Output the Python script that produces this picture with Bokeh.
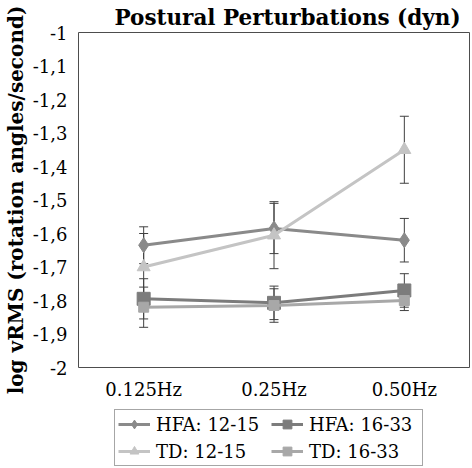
from bokeh.plotting import figure
from bokeh.layouts import column
from bokeh.models import (FactorRange, Range1d, FixedTicker, Whisker, TeeHead,
                          ColumnDataSource, Legend, LegendItem)
from bokeh.embed import file_html
from bokeh.resources import INLINE

categories = ["0.125Hz", "0.25Hz", "0.50Hz"]

hfa_12_15 = [-1.635, -1.585, -1.62]
hfa_12_15_err = [0.055, 0.075, 0.065]
hfa_16_33 = [-1.795, -1.807, -1.77]
hfa_16_33_err = [0.06, 0.05, 0.05]
td_12_15 = [-1.70, -1.605, -1.35]
td_12_15_err = [0.10, 0.10, 0.10]
td_16_33 = [-1.82, -1.815, -1.80]
td_16_33_err = [0.06, 0.05, 0.03]

y_ticks = [-2.0, -1.9, -1.8, -1.7, -1.6, -1.5, -1.4, -1.3, -1.2, -1.1, -1.0]
y_tick_labels = ["-2", "-1,9", "-1,8", "-1,7", "-1,6", "-1,5", "-1,4", "-1,3", "-1,2", "-1,1", "-1"]

series_names = ["HFA: 12-15", "HFA: 16-33", "TD: 12-15", "TD: 16-33"]

FONT = "DejaVu Serif"

p = figure(width=470, height=405, output_backend="svg", toolbar_location=None,
           x_range=FactorRange(*categories), y_range=Range1d(-2, -1),
           min_border_left=74, min_border_right=1, min_border_top=30, min_border_bottom=38)

p.title.text = "Postural Perturbations (dyn)"
p.title.text_font = FONT
p.title.text_font_style = "bold"
p.title.text_font_size = "21.5px"
p.title.text_color = "black"
p.title.align = "left"
p.title.offset = 36
p.title.standoff = 5

p.xgrid.visible = False
p.ygrid.visible = False
p.outline_line_color = "#4d4d4d"
p.outline_line_width = 1
p.background_fill_color = "white"
p.border_fill_color = "white"

p.yaxis.ticker = FixedTicker(ticks=y_ticks)
p.yaxis.major_label_overrides = {t: l for t, l in zip(y_ticks, y_tick_labels)}
for ax in (p.xaxis[0], p.yaxis[0]):
    ax.axis_line_color = None
    ax.major_tick_line_color = None
    ax.minor_tick_line_color = None
    ax.major_tick_out = 0
    ax.major_tick_in = 0
    ax.major_label_text_font = FONT
    ax.major_label_text_font_size = "18px"
    ax.major_label_text_color = "black"
p.yaxis.major_label_standoff = 11
p.xaxis.major_label_standoff = 11
p.yaxis.axis_label = "log vRMS (rotation angles/second)"
p.yaxis.axis_label_text_font = FONT
p.yaxis.axis_label_text_font_style = "bold"
p.yaxis.axis_label_text_font_size = "20px"
p.yaxis.axis_label_text_color = "black"
p.yaxis.axis_label_standoff = 2

styles = [
    (hfa_12_15, hfa_12_15_err, "#8a8a8a", "diamond", 15),
    (hfa_16_33, hfa_16_33_err, "#7c7c7c", "square", 13),
    (td_12_15, td_12_15_err, "#c4c4c4", "triangle", 13),
    (td_16_33, td_16_33_err, "#a8a8a8", "square", 10),
]

# legend figure below the chart (its renderers fall outside its visible range)
lp = figure(width=470, height=62, output_backend="svg", toolbar_location=None,
            x_range=Range1d(0, 1), y_range=Range1d(0, 1),
            x_axis_type=None, y_axis_type=None, min_border=0)
lp.xgrid.visible = False
lp.ygrid.visible = False
lp.outline_line_color = None
lp.background_fill_color = "white"
lp.border_fill_color = "white"

items = []
for name, (vals, errs, color, marker, size) in zip(series_names, styles):
    src = ColumnDataSource(dict(x=categories, y=vals,
                                upper=[v + e for v, e in zip(vals, errs)],
                                lower=[v - e for v, e in zip(vals, errs)]))
    p.line("x", "y", source=src, line_color=color, line_width=3)
    p.scatter("x", "y", source=src, marker=marker, size=size,
              fill_color=color, line_color=color)
    w = Whisker(base="x", upper="upper", lower="lower", source=src, dimension="height",
                line_color="#404040", line_width=1,
                upper_head=TeeHead(size=9, line_color="#404040", line_width=1),
                lower_head=TeeHead(size=9, line_color="#404040", line_width=1))
    p.add_layout(w)
    proxy = ColumnDataSource(dict(x=vals, y=vals))
    lr = lp.line("x", "y", source=proxy, line_color=color, line_width=3)
    sr = lp.scatter("x", "y", source=proxy, marker=marker, size=size,
                    fill_color=color, line_color=color)
    items.append(LegendItem(label=name, renderers=[lr, sr]))

legend = Legend(items=items, orientation="horizontal", ncols=2,
                location=(36, 1))
legend.label_text_font = FONT
legend.label_text_font_size = "18px"
legend.label_text_color = "black"
legend.glyph_width = 32
legend.glyph_height = 22
legend.label_height = 22
legend.label_width = 110
legend.spacing = 5
legend.padding = 3
legend.margin = 0
legend.label_standoff = 6
legend.border_line_color = "#4d4d4d"
legend.border_line_width = 1
legend.background_fill_alpha = 1
lp.add_layout(legend)

layout = column(p, lp, spacing=0)
open("out.html", "w").write(file_html(layout, INLINE))
